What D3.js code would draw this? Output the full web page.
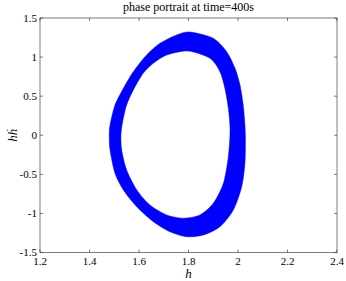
<!DOCTYPE html>
<html>
<head>
<meta charset="utf-8">
<script src="https://cdn.jsdelivr.net/npm/d3@7"></script>
<style>
  body { margin: 0; background: #fff; }
  text { font-family: 'Liberation Serif', 'DejaVu Serif', serif; fill: #000; }
</style>
</head>
<body>
<div id="chart"></div>
<script>
// outer edge of the orbit band (h, h-dot)
const hOuter = [1.806, 1.900, 1.954, 1.988, 2.008, 2.021, 2.028, 2.030, 2.028, 2.015, 1.981, 1.927, 1.860, 1.793,
  1.725, 1.658, 1.591, 1.537, 1.503, 1.483, 1.480, 1.483, 1.503, 1.537, 1.577, 1.631, 1.685, 1.752];
const vOuter = [1.321, 1.240, 1.069, 0.857, 0.643, 0.387, 0.131, -0.061, -0.359, -0.658, -0.956, -1.170, -1.276, -1.298,
  -1.234, -1.106, -0.914, -0.700, -0.487, -0.189, 0.003, 0.131, 0.387, 0.601, 0.813, 1.027, 1.176, 1.283];
// inner edge
const hInner = [1.798, 1.887, 1.927, 1.947, 1.961, 1.968, 1.961, 1.941, 1.900, 1.846, 1.779, 1.712,
  1.644, 1.591, 1.550, 1.530, 1.527, 1.534, 1.550, 1.577, 1.617, 1.658, 1.712];
const vInner = [1.078, 0.984, 0.813, 0.601, 0.345, 0.067, -0.274, -0.615, -0.871, -1.020, -1.062, -1.020,
  -0.892, -0.700, -0.445, -0.189, 0.003, 0.173, 0.387, 0.579, 0.793, 0.921, 1.027];

const xTicks = [1.2, 1.4, 1.6, 1.8, 2, 2.2, 2.4];
const yTicks = [-1.5, -1, -0.5, 0, 0.5, 1, 1.5];

const width = 346, height = 281;
const m = {left: 40, right: 9, top: 18, bottom: 28.5};
const axisColor = '#262626';

const svg = d3.select('#chart').append('svg')
  .attr('width', width).attr('height', height);

const x = d3.scaleLinear().domain([1.2, 2.4]).range([m.left, width - m.right]);
const y = d3.scaleLinear().domain([-1.5, 1.5]).range([height - m.bottom, m.top]);

// band between the two edges
const line = d3.line().x(d => x(d[0])).y(d => y(d[1])).curve(d3.curveCardinalClosed.tension(0.2));
const outer = hOuter.map((h, i) => [h, vOuter[i]]);
const inner = hInner.map((h, i) => [h, vInner[i]]);
svg.append('path')
  .attr('d', line(outer) + line(inner))
  .attr('fill', '#0000ff')
  .attr('fill-rule', 'evenodd')
  .attr('stroke', '#0000ff')
  .attr('stroke-width', 0.5);

// axes box with inward ticks
const x0 = x.range()[0], x1 = x.range()[1], y0 = y.range()[0], y1 = y.range()[1];
const g = svg.append('g').attr('stroke', axisColor).attr('stroke-width', 0.6).attr('fill', 'none');
g.append('rect').attr('x', x0).attr('y', y1).attr('width', x1 - x0).attr('height', y0 - y1);
const tl = 3;
xTicks.forEach(t => {
  g.append('line').attr('x1', x(t)).attr('x2', x(t)).attr('y1', y0).attr('y2', y0 - tl);
  g.append('line').attr('x1', x(t)).attr('x2', x(t)).attr('y1', y1).attr('y2', y1 + tl);
});
yTicks.forEach(t => {
  g.append('line').attr('x1', x0).attr('x2', x0 + tl).attr('y1', y(t)).attr('y2', y(t));
  g.append('line').attr('x1', x1).attr('x2', x1 - tl).attr('y1', y(t)).attr('y2', y(t));
});

svg.selectAll('.xt').data(xTicks).enter().append('text')
  .attr('class', 'xt')
  .attr('x', d => x(d)).attr('y', y0 + 12.5)
  .attr('text-anchor', 'middle').attr('font-size', 11)
  .text(d => d);

svg.selectAll('.yt').data(yTicks).enter().append('text')
  .attr('class', 'yt')
  .attr('x', x0 - 3).attr('y', d => y(d) + 3.5)
  .attr('text-anchor', 'end').attr('font-size', 11)
  .text(d => d);

svg.append('text')
  .attr('x', (x0 + x1) / 2).attr('y', 11)
  .attr('text-anchor', 'middle').attr('font-size', 12)
  .text('phase portrait at time=400s');

svg.append('text')
  .attr('x', (x0 + x1) / 2).attr('y', 278)
  .attr('text-anchor', 'middle').attr('font-size', 13).attr('font-style', 'italic')
  .text('h');

svg.append('text')
  .attr('transform', `translate(17, ${(y0 + y1) / 2}) rotate(-90)`)
  .attr('text-anchor', 'middle').attr('font-size', 13).attr('font-style', 'italic')
  .text('hḣ');
</script>
</body>
</html>
